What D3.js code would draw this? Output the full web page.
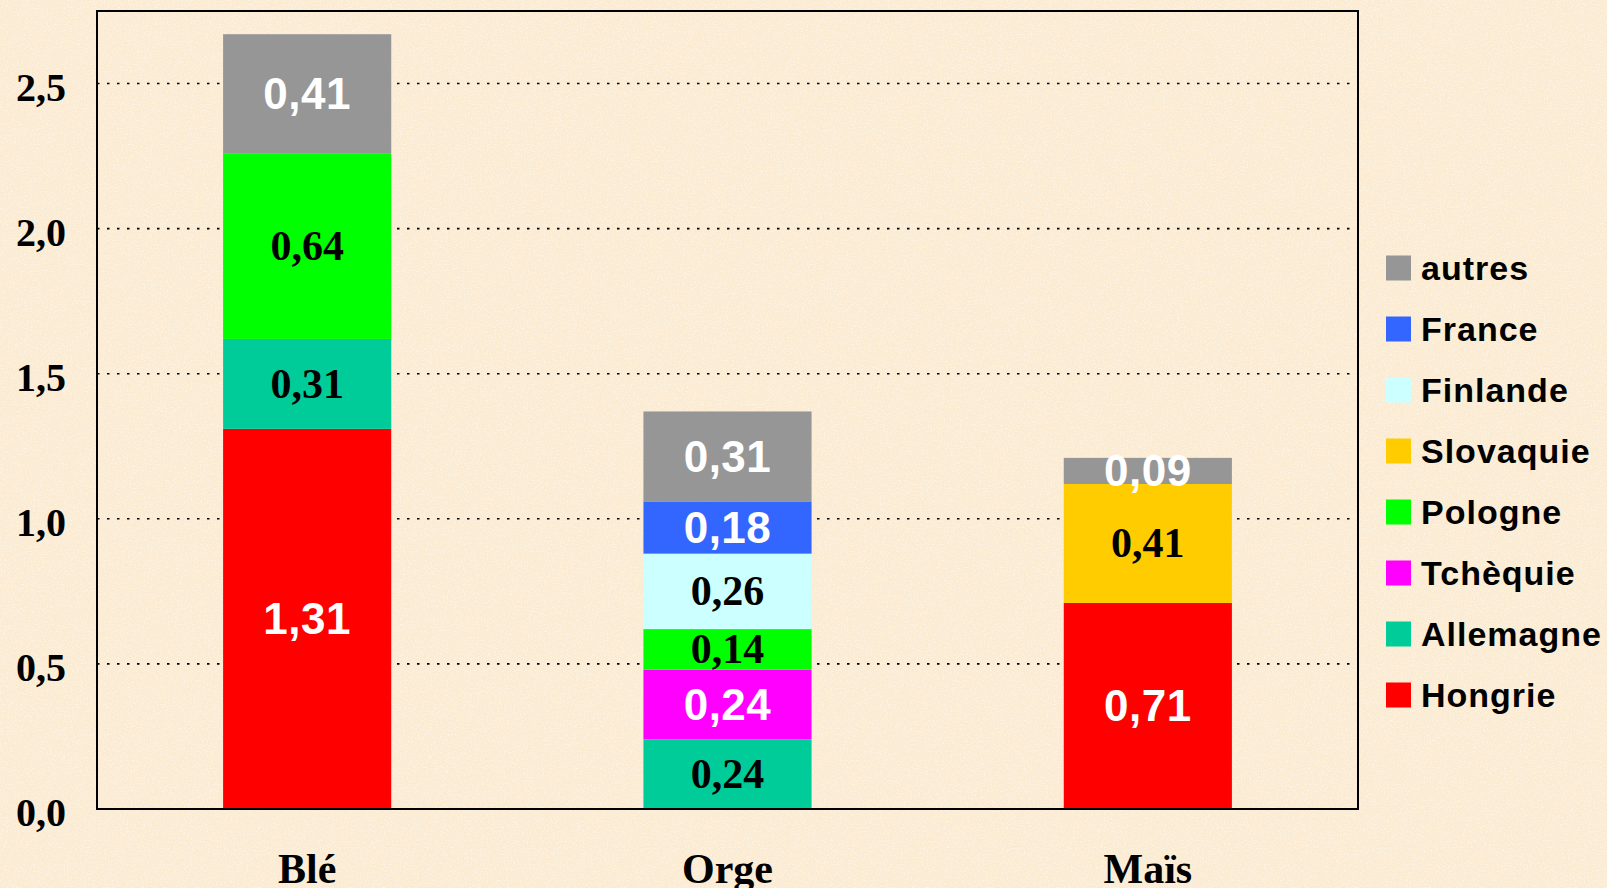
<!DOCTYPE html>
<html>
<head>
<meta charset="utf-8">
<script src="https://d3js.org/d3.v7.min.js"></script>
<style>
  body { margin: 0; background: #fbebd2; }
  svg { display: block; }
</style>
</head>
<body>
<div id="chart"></div>
<script>
// data
var categories = ["Blé", "Orge", "Maïs"];
var series = ["Hongrie", "Allemagne", "Tchèquie", "Pologne", "Slovaquie", "Finlande", "France", "autres"];
var hongrie   = [1.31, 0,    0.71];
var allemagne = [0.31, 0.24, 0];
var tchequie  = [0,    0.24, 0];
var pologne   = [0.64, 0.14, 0];
var slovaquie = [0,    0,    0.41];
var finlande  = [0,    0.26, 0];
var france    = [0,    0.18, 0];
var autres    = [0.41, 0.31, 0.09];
var yTicks = [0, 0.5, 1.0, 1.5, 2.0, 2.5];

var colors = ["#ff0000", "#00cc99", "#ff00ff", "#00ff00", "#ffcc00", "#ccffff", "#3366ff", "#969696"];
var whiteLabel = ["Hongrie", "Tchèquie", "France", "autres"];

var seriesValues = [hongrie, allemagne, tchequie, pologne, slovaquie, finlande, france, autres];
var table = categories.map(function(c, i) {
  var row = {cat: c};
  series.forEach(function(s, j) { row[s] = seriesValues[j][i]; });
  return row;
});

var W = 1607, H = 888;
var margin = {top: 11, right: 249, bottom: 79, left: 97};
var width = W - margin.left - margin.right,
    height = H - margin.top - margin.bottom;

var svg = d3.select("#chart").append("svg")
  .attr("width", W)
  .attr("height", H);

// paper-like background: base colour plus light speckles
var defs = svg.append("defs");
var f = defs.append("filter").attr("id", "grain").attr("x", 0).attr("y", 0).attr("width", "100%").attr("height", "100%");
f.append("feTurbulence").attr("type", "fractalNoise").attr("baseFrequency", 0.7).attr("numOctaves", 2).attr("seed", 5);
f.append("feColorMatrix").attr("type", "matrix")
  .attr("values", "0 0 0 0 1  0 0 0 0 0.97  0 0 0 0 0.94  2.5 0 0 0 -1.2");
svg.append("rect").attr("width", W).attr("height", H).attr("fill", "#fbebd2");
svg.append("rect").attr("width", W).attr("height", H).attr("filter", "url(#grain)").attr("opacity", 0.7);

var g = svg.append("g")
  .attr("transform", "translate(" + margin.left + "," + margin.top + ")");

var x = d3.scaleBand()
  .domain(categories)
  .range([0, width])
  .paddingInner(0.6)
  .paddingOuter(0.3);

var y = d3.scaleLinear()
  .domain([0, 2.75])
  .range([height, 0]);

// dotted gridlines
g.selectAll(".grid")
  .data(yTicks)
  .enter().append("line")
  .attr("x1", 0).attr("x2", width)
  .attr("y1", function(d) { return y(d); })
  .attr("y2", function(d) { return y(d); })
  .attr("stroke", "#000")
  .attr("stroke-width", 1.6)
  .attr("stroke-dasharray", "2.5,7.5");

var stacked = d3.stack().keys(series)(table);

var layer = g.selectAll(".layer")
  .data(stacked)
  .enter().append("g")
  .attr("fill", function(d, i) { return colors[i]; });

layer.selectAll("rect")
  .data(function(d) { return d.filter(function(p) { return p[1] - p[0] > 0; }); })
  .enter().append("rect")
  .attr("x", function(d) { return x(d.data.cat); })
  .attr("y", function(d) { return y(d[1]); })
  .attr("width", x.bandwidth())
  .attr("height", function(d) { return y(d[0]) - y(d[1]); });

// value labels
stacked.forEach(function(s) {
  var white = whiteLabel.indexOf(s.key) >= 0;
  s.forEach(function(p) {
    var v = p[1] - p[0];
    if (v <= 0) return;
    var mid = (y(p[0]) + y(p[1])) / 2;
    g.append("text")
      .attr("x", x(p.data.cat) + x.bandwidth() / 2)
      .attr("y", mid + (white ? 15.5 : 14))
      .attr("text-anchor", "middle")
      .attr("fill", white ? "#fff" : "#000")
      .style("font-family", white ? "'Liberation Sans', Arial, sans-serif" : "'Liberation Serif', 'Times New Roman', serif")
      .style("font-weight", "bold")
      .style("font-size", white ? "44px" : "42px")
      .style("letter-spacing", white ? "0.5px" : "0px")
      .text(d3.format(".2f")(v).replace(".", ","));
  });
});

// axes
var yAxis = g.append("g")
  .call(d3.axisLeft(y).tickValues(yTicks).tickSize(0).tickPadding(31)
    .tickFormat(function(d) { return d3.format(".1f")(d).replace(".", ","); }));
yAxis.select(".domain").remove();
yAxis.selectAll("text")
  .attr("dy", "0.42em")
  .attr("fill", "#000")
  .style("font-family", "'Liberation Serif', 'Times New Roman', serif")
  .style("font-weight", "bold")
  .style("font-size", "40px");

var xAxis = g.append("g")
  .attr("transform", "translate(0," + height + ")")
  .call(d3.axisBottom(x).tickSize(0));
xAxis.select(".domain").remove();
xAxis.selectAll("text")
  .attr("y", 74)
  .attr("dy", 0)
  .attr("fill", "#000")
  .style("font-family", "'Liberation Serif', 'Times New Roman', serif")
  .style("font-weight", "bold")
  .style("font-size", "42px");

// frame
g.append("rect")
  .attr("width", width)
  .attr("height", height)
  .attr("fill", "none")
  .attr("stroke", "#000")
  .attr("stroke-width", 2);

// legend, top entry is the last series
var legend = svg.append("g")
  .attr("transform", "translate(1386,268)");
var legendKeys = series.slice().reverse();
var item = legend.selectAll(".item")
  .data(legendKeys)
  .enter().append("g")
  .attr("transform", function(d, i) { return "translate(0," + (i * 61) + ")"; });
item.append("rect")
  .attr("y", -12.5)
  .attr("width", 25)
  .attr("height", 25)
  .attr("fill", function(d) { return colors[series.indexOf(d)]; });
item.append("text")
  .attr("x", 35)
  .attr("y", 12)
  .style("font-family", "'Liberation Sans', Arial, sans-serif")
  .style("font-weight", "bold")
  .style("font-size", "34px")
  .style("letter-spacing", "1px")
  .text(function(d) { return d; });
</script>
</body>
</html>
